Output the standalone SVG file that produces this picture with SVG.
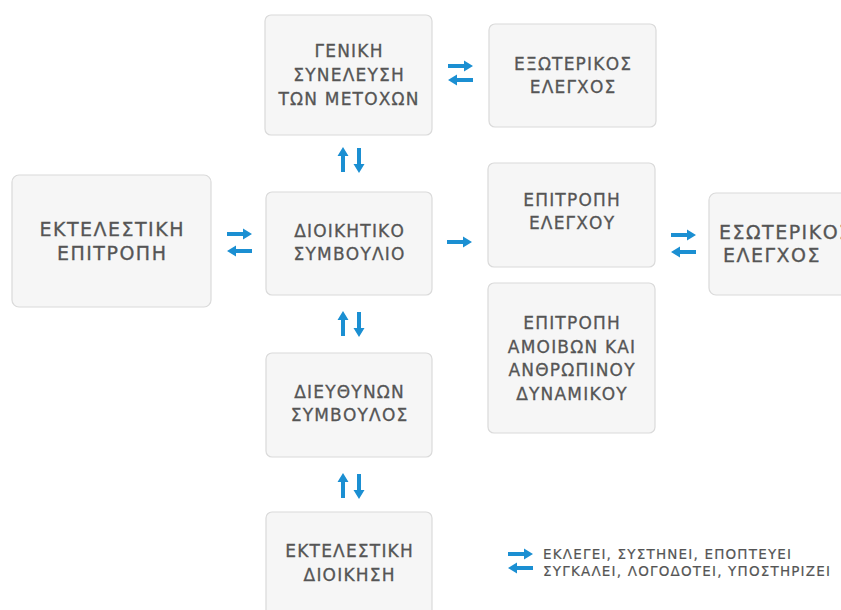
<svg xmlns="http://www.w3.org/2000/svg" xmlns:xlink="http://www.w3.org/1999/xlink" width="841" height="610" viewBox="0 0 841 610">
<style>
.box{fill:#f6f6f6;stroke:#dadada;stroke-width:1.2}
.t{font-family:"DejaVu Sans","Noto Sans",sans-serif;font-size:17px;letter-spacing:1.2px;fill:#555;stroke:#555;stroke-width:0.3;text-anchor:middle}
.tl{font-family:"DejaVu Sans","Noto Sans",sans-serif;font-size:19px;letter-spacing:1.5px;fill:#555;stroke:#555;stroke-width:0.3;text-anchor:middle}
.lg{font-family:"DejaVu Sans","Noto Sans",sans-serif;font-size:13.5px;letter-spacing:1.2px;fill:#555;stroke:#555;stroke-width:0.2}
.arr{fill:#1b8fd2}
</style>
<defs>
<path id="ar" class="arr" d="M0,-2 H16 V-5.5 L25,0 L16,5.5 V2 H0 Z"/>
</defs>
<rect width="841" height="610" fill="#fff"/>

<g id="gsm">
<rect class="box" x="265" y="15" width="167" height="120" rx="6"/>
<text class="t" x="349.1" y="57">ΓΕΝΙΚΗ</text>
<text class="t" x="349.1" y="81">ΣΥΝΕΛΕΥΣΗ</text>
<text class="t" x="349.1" y="105">ΤΩΝ ΜΕΤΟΧΩΝ</text>
</g>
<g id="external-audit">
<rect class="box" x="489" y="24" width="167" height="103" rx="6"/>
<text class="t" x="573.1" y="70">ΕΞΩΤΕΡΙΚΟΣ</text>
<text class="t" x="573.1" y="93">ΕΛΕΓΧΟΣ</text>
</g>
<g id="executive-committee">
<rect class="box" x="12" y="175" width="199" height="132" rx="7"/>
<text class="tl" x="112.2" y="236">ΕΚΤΕΛΕΣΤΙΚΗ</text>
<text class="tl" x="112.2" y="260">ΕΠΙΤΡΟΠΗ</text>
</g>
<g id="board">
<rect class="box" x="266" y="192" width="166" height="103" rx="6"/>
<text class="t" x="349.6" y="237">ΔΙΟΙΚΗΤΙΚΟ</text>
<text class="t" x="349.6" y="260">ΣΥΜΒΟΥΛΙΟ</text>
</g>
<g id="audit-committee">
<rect class="box" x="488" y="163" width="167" height="104" rx="6"/>
<text class="t" x="572.1" y="206">ΕΠΙΤΡΟΠΗ</text>
<text class="t" x="572.1" y="229">ΕΛΕΓΧΟΥ</text>
</g>
<g id="internal-audit">
<rect class="box" x="709" y="193" width="175" height="102" rx="7"/>
<text class="tl" x="719" y="239" style="text-anchor:start">ΕΣΩΤΕΡΙΚΟΣ</text>
<text class="tl" x="772" y="262">ΕΛΕΓΧΟΣ</text>
</g>
<g id="remuneration-committee">
<rect class="box" x="488" y="283" width="167" height="150" rx="6"/>
<text class="t" x="572.1" y="329">ΕΠΙΤΡΟΠΗ</text>
<text class="t" x="572.1" y="352.5">ΑΜΟΙΒΩΝ ΚΑΙ</text>
<text class="t" x="572.1" y="376">ΑΝΘΡΩΠΙΝΟΥ</text>
<text class="t" x="572.1" y="399.5">ΔΥΝΑΜΙΚΟΥ</text>
</g>
<g id="ceo">
<rect class="box" x="266" y="353" width="166" height="104" rx="6"/>
<text class="t" x="349.6" y="398">ΔΙΕΥΘΥΝΩΝ</text>
<text class="t" x="349.6" y="421">ΣΥΜΒΟΥΛΟΣ</text>
</g>
<g id="executive-management">
<rect class="box" x="266" y="512" width="166" height="110" rx="6"/>
<text class="t" x="349.6" y="557">ΕΚΤΕΛΕΣΤΙΚΗ</text>
<text class="t" x="349.6" y="581">ΔΙΟΙΚΗΣΗ</text>
</g>

<g id="connectors">
<use xlink:href="#ar" transform="translate(448,66)"/>
<use xlink:href="#ar" transform="translate(473,80) rotate(180)"/>
<use xlink:href="#ar" transform="translate(227,234)"/>
<use xlink:href="#ar" transform="translate(252,251) rotate(180)"/>
<use xlink:href="#ar" transform="translate(447,242)"/>
<use xlink:href="#ar" transform="translate(671,235)"/>
<use xlink:href="#ar" transform="translate(696,252) rotate(180)"/>
<use xlink:href="#ar" transform="translate(343,172) rotate(-90)"/>
<use xlink:href="#ar" transform="translate(359,148) rotate(90)"/>
<use xlink:href="#ar" transform="translate(343,336) rotate(-90)"/>
<use xlink:href="#ar" transform="translate(359,312) rotate(90)"/>
<use xlink:href="#ar" transform="translate(343,498) rotate(-90)"/>
<use xlink:href="#ar" transform="translate(359,474) rotate(90)"/>
</g>

<g id="legend">
<use xlink:href="#ar" transform="translate(508,554)"/>
<use xlink:href="#ar" transform="translate(533,568) rotate(180)"/>
<text class="lg" x="543" y="559">ΕΚΛΕΓΕΙ, ΣΥΣΤΗΝΕΙ, ΕΠΟΠΤΕΥΕΙ</text>
<text class="lg" x="543" y="576">ΣΥΓΚΑΛΕΙ, ΛΟΓΟΔΟΤΕΙ, ΥΠΟΣΤΗΡΙΖΕΙ</text>
</g>
</svg>
